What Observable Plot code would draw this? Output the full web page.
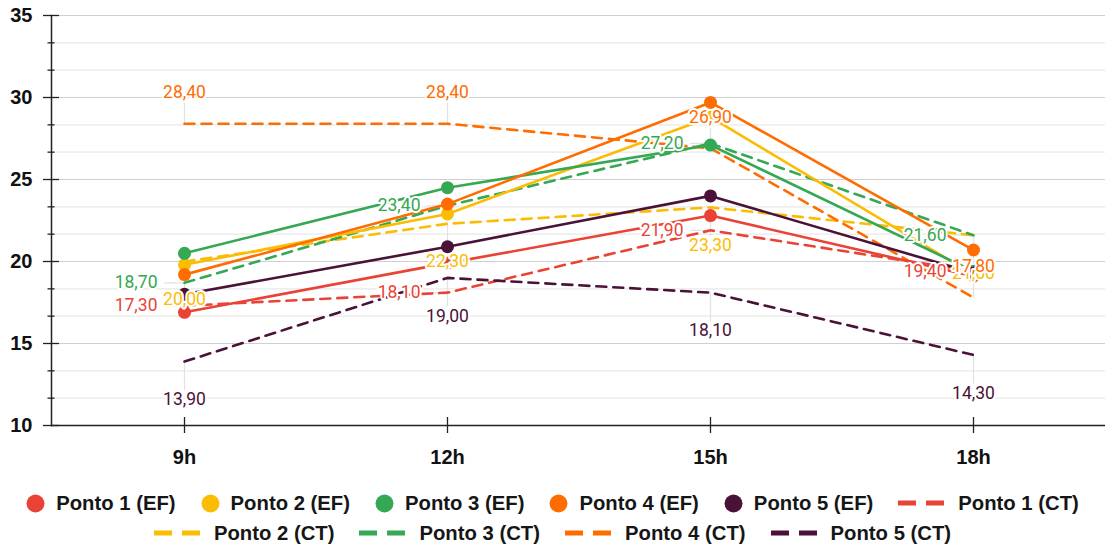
<!DOCTYPE html>
<html><head><meta charset="utf-8">
<script src="https://cdn.jsdelivr.net/npm/d3@7"></script>
<script src="https://cdn.jsdelivr.net/npm/@observablehq/plot@0.6"></script>
<style>
body{margin:0;background:#fff;font-family:"Liberation Sans",Arial,sans-serif;}
#legend{display:flex;flex-wrap:wrap;justify-content:center;column-gap:25px;width:1105px;padding-top:13px;line-height:30px;font-weight:bold;font-size:20.3px;color:#161616;}
.item{display:inline-flex;align-items:center;gap:11px;}
.item.ct{gap:14px;}
</style></head><body>
<div id="chart"></div><div id="legend"></div>
<script>
// ---- data ----
const hours = ["9h", "12h", "15h", "18h"];
const ponto1EF = [16.9, 19.9, 22.8, 19.1];
const ponto2EF = [19.8, 22.9, 28.8, 19.2];
const ponto3EF = [20.5, 24.5, 27.1, 19.4];
const ponto4EF = [19.2, 23.5, 29.7, 20.7];
const ponto5EF = [18.0, 20.9, 24.0, 19.3];
const ponto1CT = [17.3, 18.1, 21.9, 19.4];
const ponto2CT = [20.0, 22.3, 23.3, 21.6];
const ponto3CT = [18.7, 23.4, 27.2, 21.6];
const ponto4CT = [28.4, 28.4, 26.9, 17.8];
const ponto5CT = [13.9, 19.0, 18.1, 14.3];
const majorTicks = [10, 15, 20, 25, 30, 35];
const minorTicks = [11.667, 13.333, 16.667, 18.333, 21.667, 23.333, 26.667, 28.333, 31.667, 33.333];

// ---- styling ----
const colors = ["#EA4335", "#FBBC04", "#34A853", "#FF6D01", "#4A1237"];
const efSeries = [
  {name: "Ponto 1 (EF)", values: ponto1EF, color: colors[0]},
  {name: "Ponto 2 (EF)", values: ponto2EF, color: colors[1]},
  {name: "Ponto 3 (EF)", values: ponto3EF, color: colors[2]},
  {name: "Ponto 4 (EF)", values: ponto4EF, color: colors[3]},
  {name: "Ponto 5 (EF)", values: ponto5EF, color: colors[4]}
];
const ctSeries = [
  {name: "Ponto 1 (CT)", values: ponto1CT, color: colors[0], place: "left"},
  {name: "Ponto 2 (CT)", values: ponto2CT, color: colors[1], place: "below"},
  {name: "Ponto 3 (CT)", values: ponto3CT, color: colors[2], place: "left"},
  {name: "Ponto 4 (CT)", values: ponto4CT, color: colors[3], place: "above"},
  {name: "Ponto 5 (CT)", values: ponto5CT, color: colors[4], place: "below"}
];
const rowsOf = s => hours.map((h, i) => ({hour: h, value: s.values[i]}));
const fmt = v => d3.format(".2f")(v).replace(".", ",");
const leader = {draw(ctx, l) { ctx.moveTo(0, 0); ctx.lineTo(0, -l); }};

const marks = [
  Plot.ruleY(minorTicks, {stroke: "#e8e8e8", strokeWidth: 1.2}),
  Plot.ruleY(majorTicks, {stroke: "#cfcfcf", strokeWidth: 1.2}),
];
// leader lines
for (const s of ctSeries) {
  const cfg = s.place === "above" ? {rotate: 0, length: 22}
    : s.place === "below" ? {rotate: 180, length: 28}
    : {rotate: 270, length: 20};
  marks.push(Plot.vector(rowsOf(s), {x: "hour", y: "value", anchor: "start", shape: leader,
    rotate: cfg.rotate, length: cfg.length, stroke: "#e2e2e2", strokeWidth: 1.2}));
}
for (const s of ctSeries) {
  marks.push(Plot.line(rowsOf(s), {x: "hour", y: "value", stroke: s.color, strokeWidth: 2.6, strokeDasharray: "10,7"}));
}
for (const s of efSeries) {
  marks.push(Plot.line(rowsOf(s), {x: "hour", y: "value", stroke: s.color, strokeWidth: 2.6}));
  marks.push(Plot.dot(rowsOf(s), {x: "hour", y: "value", fill: s.color, r: 6.5}));
}
for (const s of ctSeries) {
  const pos = s.place === "above" ? {dy: -31, textAnchor: "middle"}
    : s.place === "below" ? {dy: 38, textAnchor: "middle"}
    : {dx: -27, textAnchor: "end"};
  marks.push(Plot.text(rowsOf(s), {x: "hour", y: "value", text: d => fmt(d.value), fill: s.color,
    stroke: "white", strokeWidth: 4, paintOrder: "stroke", fontSize: 17.5, fontFamily: "Roboto", ...pos}));
}
marks.push(
  Plot.frame({anchor: "left", stroke: "#222", strokeWidth: 1.5}),
  Plot.frame({anchor: "bottom", stroke: "#222", strokeWidth: 1.5}),
  Plot.axisY(minorTicks, {label: null, tickSize: 7, dx: 3.5, tickFormat: () => "", stroke: "#222", strokeWidth: 1.3}),
  Plot.axisY(majorTicks, {label: null, tickSize: 16, dx: 8, tickPadding: 11, fontSize: 20, fontWeight: "bold", fill: "#111", stroke: "#222", strokeWidth: 1.3, tickFormat: d => String(d)}),
  Plot.axisX({label: null, tickSize: 16, dy: -8, tickFormat: () => "", stroke: "#222", strokeWidth: 1.3}),
  Plot.axisX({label: null, tickSize: 0, tickPadding: 24, fontSize: 20, fontWeight: "bold", fill: "#111"})
);

const chart = Plot.plot({
  width: 1105, height: 475,
  marginTop: 15, marginBottom: 50, marginLeft: 51, marginRight: 0,
  style: {fontFamily: "'Liberation Sans', Arial, sans-serif", background: "white", overflow: "visible"},
  x: {type: "point", domain: hours, padding: 0.5, label: null},
  y: {domain: [10, 35], label: null},
  marks
});
document.getElementById("chart").append(chart);

// legend
const legend = document.getElementById("legend");
for (const s of efSeries) {
  legend.insertAdjacentHTML("beforeend",
    `<span class="item"><svg width="19" height="19"><circle cx="9.5" cy="9.5" r="9" fill="${s.color}"/></svg>${s.name}</span>`);
}
for (const s of ctSeries) {
  legend.insertAdjacentHTML("beforeend",
    `<span class="item ct"><svg width="46" height="10"><line x1="0" x2="46" y1="5" y2="5" stroke="${s.color}" stroke-width="5" stroke-dasharray="18,10"/></svg>${s.name}</span>`);
}
</script>
</body></html>
